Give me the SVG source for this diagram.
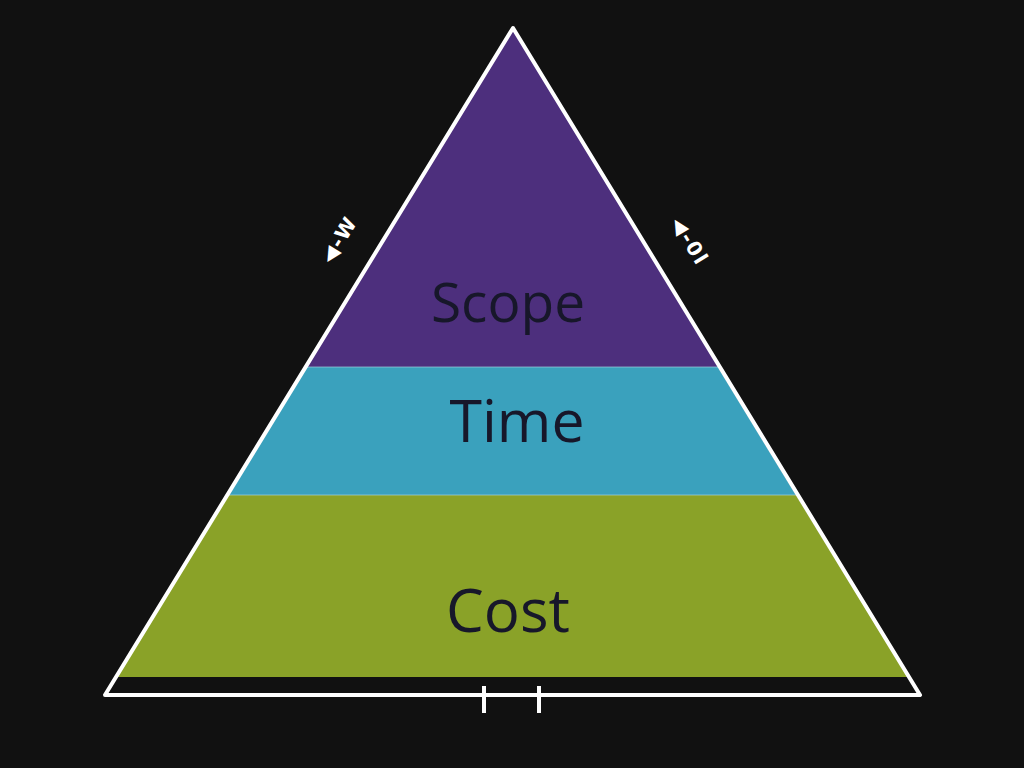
<svg xmlns="http://www.w3.org/2000/svg" width="1024" height="768" viewBox="0 0 1024 768">
  <defs>
    <style>
      .band-label { font-family: "Open Sans", "Noto Sans", sans-serif; fill: #17172a; text-anchor: middle; }
      .edge-label { font-family: "DejaVu Sans", "Noto Sans", sans-serif; font-weight: bold; font-size: 20px; letter-spacing: 2px; fill: #ffffff; text-anchor: middle; }
      .outline { fill: none; stroke: #ffffff; stroke-width: 4; stroke-linejoin: round; }
      .tick { stroke: #ffffff; stroke-width: 4; }
      .sep { stroke: #9fd0e0; stroke-width: 1; opacity: 0.7; }
    </style>
  </defs>
  <rect x="0" y="0" width="1024" height="768" fill="#111111"/>

  <g id="scope">
    <polygon points="513,30 718,367 307,367" fill="#4d2f7d"/>
    <text class="band-label" x="508" y="322" font-size="55">Scope</text>
  </g>
  <g id="time">
    <polygon points="307,367 718,367 796,495 229,495" fill="#3aa1bd"/>
    <text class="band-label" x="517" y="442" font-size="59">Time</text>
  </g>
  <g id="cost">
    <polygon points="229,495 796,495 908,677 117,677" fill="#8aa228"/>
    <text class="band-label" x="508" y="632" font-size="60">Cost</text>
  </g>

  <g id="connectors">
    <line class="sep" x1="307" y1="367" x2="718" y2="367"/>
    <line class="sep" x1="229" y1="495" x2="796" y2="495"/>
    <polygon class="outline" points="513,28 920,695 105,695"/>
    <line class="tick" x1="484" y1="686" x2="484" y2="713"/>
    <line class="tick" x1="539" y1="686" x2="539" y2="713"/>
  </g>

  <g id="left-edge-label">
    <text class="edge-label" transform="translate(345,243) rotate(-58.5)">◀-W</text>
  </g>
  <g id="right-edge-label">
    <text class="edge-label" transform="translate(684,245) rotate(58.6)">◀-0l</text>
  </g>
</svg>
